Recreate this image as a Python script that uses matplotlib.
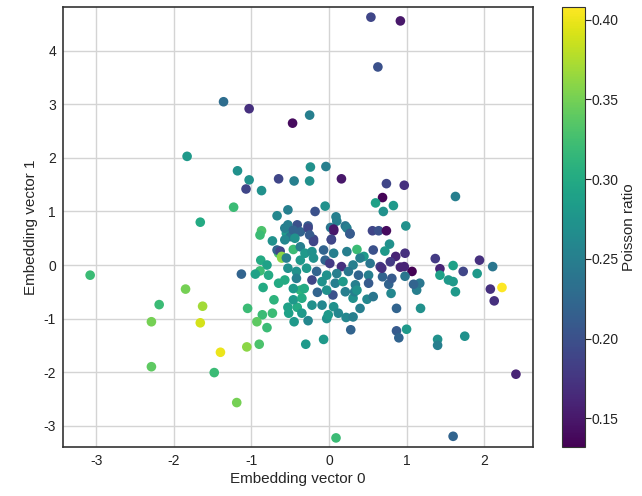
import numpy as np
import matplotlib.pyplot as plt
import seaborn as sns

sns.set_style('ticks')
plt.rcParams['font.family'] = ['Liberation Sans', 'DejaVu Sans']
plt.rcParams['axes.unicode_minus'] = False

# embedding vector 0, embedding vector 1, poisson ratio
emb0 = [0.54, 0.92, 0.63, -1.36, -1.03, -0.47, -0.25, -1.83,
        -1.18, -1.03, -1.07, -0.87, -0.65, -0.45, -0.24, -0.04, -0.25, 0.16,
        0.74, 0.97, 0.69, 0.60, 0.83, 0.70, 1.63, -1.23, -1.66, -0.67,
        -0.53, -0.18, -0.05, 0.09, 0.10, 0.21, 0.27, 0.06, 0.03, 0.02,
        -0.53, -0.41, -0.27, -0.55, -0.50, -0.37, -0.20, -0.87, -0.89, -0.73,
        0.56, 0.64, 0.74, 0.99, 0.78, 0.72, 0.57, 0.86, 0.98, 0.79,
        0.92, 1.07, 1.37, 1.43, 1.60, 1.73, 1.94, 2.11, 1.91, 0.36,
        0.45, 0.23, -0.46, -0.65, -0.61, -0.67, -0.88, -0.80, -0.89, -3.08,
        -1.13, -1.85, -2.19, -2.29, -1.63, -1.66, -1.40, -2.29, -1.48, -1.19,
        -1.05, -0.86, -0.93, -0.80, -1.06, -0.90, -0.85, -0.71, -0.73, -0.65,
        -0.78, -0.95, -0.53, -0.52, -0.45, -0.41, -0.35, -0.27, -0.30, -0.07,
        -0.03, -0.01, -0.22, -0.09, 0.06, 0.12, 0.22, 0.31, 0.28, 0.40,
        0.49, 0.57, 0.31, 0.33, 0.05, -0.03, -0.15, -0.37, -0.32, -0.46,
        0.80, 0.87, 0.87, 0.90, 1.00, 1.18, 1.13, 1.17, 1.09, 0.77,
        0.69, 1.40, 1.40, 1.75, 1.63, 1.60, 1.54, 2.08, 2.23, 2.13,
        2.41, 0.09, 1.60, -0.63, -0.61, -0.57, -0.46, -0.27, -0.25, 0.06,
        0.03, 0.23, 0.27, -0.57, -0.44, -0.37, -0.20, -0.31, -0.22, -0.07,
        0.06, -0.55, -0.37, -0.20, -0.05, 0.01, 0.16, 0.31, 0.40, 0.53,
        0.66, -0.53, -0.42, -0.29, -0.16, -0.03, 0.10, 0.25, 0.38, 0.51,
        -0.57, -0.42, -0.22, -0.09, 0.08, 0.18, 0.34, 0.51, 0.21, 0.36,
        0.68, 0.97, 0.98, 0.81, 1.43, -0.46, -0.35]
emb1 = [4.63, 4.56, 3.70, 3.05, 2.92, 2.65, 2.80, 2.03,
        1.76, 1.59, 1.42, 1.39, 1.61, 1.57, 1.83, 1.84, 1.57, 1.61,
        1.52, 1.49, 1.26, 1.16, 1.11, 1.00, 1.28, 1.08, 0.80, 0.92,
        1.03, 1.00, 1.10, 0.90, 0.82, 0.73, 0.58, 0.64, 0.48, 0.70,
        0.75, 0.75, 0.73, 0.59, 0.53, 0.62, 0.48, 0.64, 0.56, 0.45,
        0.64, 0.64, 0.64, 0.73, 0.39, 0.26, 0.28, 0.16, 0.22, 0.06,
        -0.04, -0.12, 0.12, -0.07, -0.01, -0.12, 0.09, -0.03, -0.16, 0.29,
        0.16, 0.25, 0.29, 0.22, 0.13, 0.28, 0.09, 0.00, -0.11, -0.19,
        -0.17, -0.45, -0.74, -1.06, -0.77, -1.08, -1.63, -1.90, -2.01, -2.57,
        -0.81, -0.93, -1.06, -1.17, -1.53, -1.48, -0.42, -0.65, -0.90, -0.34,
        -0.19, -0.17, -0.79, -0.90, -1.06, -0.79, -0.90, -1.04, -1.48, -1.39,
        -1.00, -0.93, -0.75, -0.75, -0.78, -0.90, -0.98, -0.97, -1.21, -0.81,
        -0.64, -0.59, -0.62, -0.50, -0.56, -0.47, -0.51, -0.47, -0.44, -0.44,
        -0.53, -0.81, -1.23, -1.36, -1.20, -0.81, -0.47, -0.34, -0.36, -0.36,
        -0.22, -1.39, -1.50, -1.33, -0.50, -0.31, -0.28, -0.45, -0.42, -0.67,
        -2.04, -3.23, -3.20, 0.26, 0.16, 0.69, 0.65, 0.69, 0.56, 0.67,
        0.47, 0.69, 0.59, 0.47, 0.50, 0.34, 0.44, 0.22, 0.25, 0.28,
        0.22, 0.13, 0.09, 0.13, 0.09, 0.03, -0.03, 0.00, 0.13, 0.03,
        -0.03, -0.06, -0.12, -0.06, -0.12, -0.19, -0.16, -0.12, -0.19, -0.19,
        -0.28, -0.25, -0.28, -0.31, -0.34, -0.31, -0.37, -0.34, -0.50, -0.47,
        -0.06, -0.03, -0.21, -0.25, -0.19, -0.65, -0.62]
poisson = [0.19, 0.15, 0.20, 0.23, 0.17, 0.14, 0.25, 0.28,
           0.27, 0.27, 0.19, 0.27, 0.19, 0.25, 0.27, 0.25, 0.27, 0.15,
           0.19, 0.17, 0.135, 0.29, 0.28, 0.27, 0.25, 0.32, 0.30, 0.26,
           0.25, 0.20, 0.27, 0.25, 0.25, 0.24, 0.21, 0.15, 0.20, 0.24,
           0.25, 0.20, 0.21, 0.28, 0.24, 0.22, 0.19, 0.33, 0.32, 0.27,
           0.19, 0.20, 0.14, 0.27, 0.27, 0.28, 0.20, 0.16, 0.17, 0.18,
           0.16, 0.132, 0.18, 0.16, 0.29, 0.19, 0.17, 0.24, 0.28, 0.32,
           0.28, 0.25, 0.32, 0.33, 0.36, 0.22, 0.30, 0.29, 0.32, 0.32,
           0.22, 0.35, 0.32, 0.35, 0.37, 0.39, 0.40, 0.34, 0.32, 0.35,
           0.32, 0.32, 0.34, 0.32, 0.36, 0.33, 0.30, 0.31, 0.32, 0.30,
           0.30, 0.29, 0.29, 0.29, 0.28, 0.30, 0.28, 0.26, 0.28, 0.28,
           0.27, 0.28, 0.27, 0.26, 0.27, 0.26, 0.26, 0.25, 0.22, 0.25,
           0.26, 0.24, 0.27, 0.25, 0.20, 0.27, 0.22, 0.31, 0.30, 0.28,
           0.26, 0.22, 0.21, 0.22, 0.28, 0.27, 0.25, 0.24, 0.22, 0.22,
           0.22, 0.27, 0.25, 0.27, 0.28, 0.28, 0.28, 0.17, 0.408, 0.17,
           0.16, 0.32, 0.22, 0.19, 0.36, 0.25, 0.22, 0.19, 0.21, 0.15,
           0.19, 0.25, 0.21, 0.26, 0.27, 0.25, 0.19, 0.28, 0.27, 0.22,
           0.25, 0.25, 0.28, 0.27, 0.22, 0.18, 0.17, 0.25, 0.25, 0.24,
           0.18, 0.27, 0.27, 0.28, 0.22, 0.27, 0.25, 0.24, 0.22, 0.25,
           0.30, 0.25, 0.19, 0.27, 0.25, 0.28, 0.25, 0.21, 0.25, 0.27,
           0.17, 0.16, 0.24, 0.21, 0.29, 0.28, 0.30]

fig = plt.figure(figsize=(6.42, 4.96), dpi=100)
ax = fig.add_axes([63 / 642, 49 / 496, 470 / 642, 440 / 496])
cax = fig.add_axes([562 / 642, 49 / 496, 23 / 642, 440 / 496])

sc = ax.scatter(emb0, emb1, c=poisson, cmap='viridis', s=48,
                vmin=min(poisson), vmax=max(poisson), edgecolors='none')
ax.set_xlim(-3.43, 2.63)
ax.set_ylim(-3.40, 4.82)
ax.set_xticks([-3, -2, -1, 0, 1, 2])
ax.set_yticks([-3, -2, -1, 0, 1, 2, 3, 4])
ax.grid(True, color='#d4d4d4', linewidth=1)
ax.set_axisbelow(True)
for sp in ax.spines.values():
    sp.set_color('#333333')
    sp.set_linewidth(1.2)
ax.tick_params(labelsize=10, colors='#222222', length=0, pad=5)
ax.set_xlabel('Embedding vector 0', fontsize=11, labelpad=3)
ax.set_ylabel('Embedding vector 1', fontsize=11)

cb = fig.colorbar(sc, cax=cax)
cb.set_label('Poisson ratio', fontsize=11)
cb.ax.yaxis.set_label_coords(2.6, 0.5)
cb.outline.set_edgecolor('#333333')
cb.ax.tick_params(labelsize=10, length=4, colors='#222222', pad=1)

fig.savefig('out.png', dpi=100)
